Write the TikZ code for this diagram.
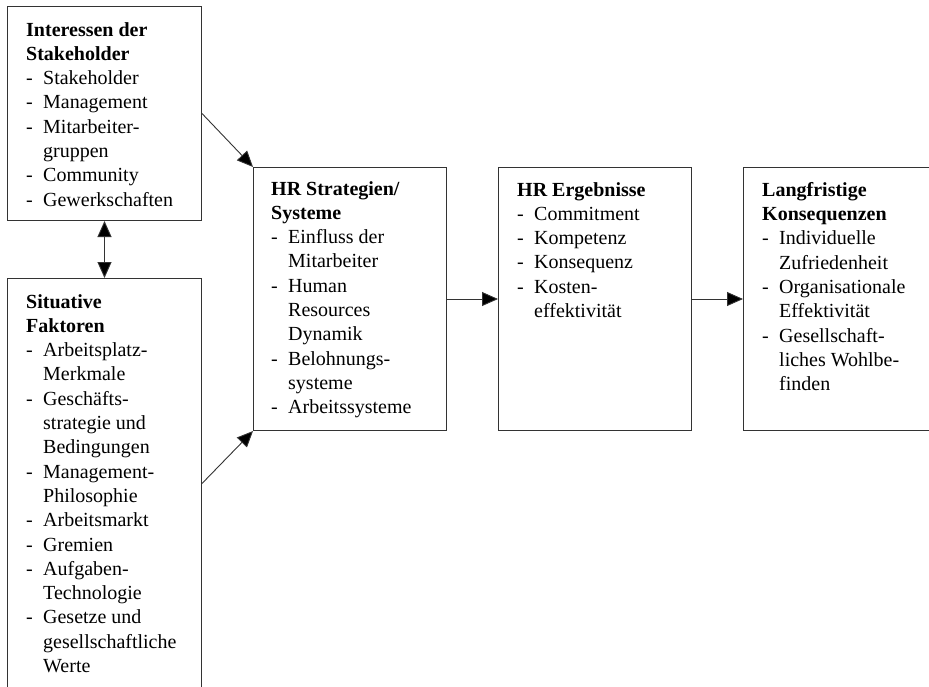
\documentclass[tikz,border=0pt]{standalone}
\usepackage{fontspec}
\setmainfont{Liberation Serif}
\usetikzlibrary{arrows.meta,calc}
\definecolor{linegray}{HTML}{333333}
\newcommand{\itm}[1]{\makebox[17pt][l]{-}#1}
\newcommand{\cnt}[1]{\hspace*{17pt}#1}

\begin{document}
\begin{tikzpicture}[x=1pt,y=-1pt,
  box/.style={draw=linegray,line width=1pt,anchor=north west,minimum width=194pt,inner sep=0pt},
  txt/.style={anchor=north west,align=left,inner sep=0pt,font=\fontsize{20}{24.3}\selectfont},
  arr/.style={draw=linegray,line width=0.9pt,-{Triangle[length=16pt,width=14pt,fill=black]}}]
  \useasboundingbox (0,0) rectangle (929,686);
  % boxes
  \node[box,minimum height=214pt] (int) at (7,6) {};
  \node[box,minimum height=410pt] (sit) at (7,278) {};
  \node[box,minimum width=193pt,minimum height=263pt] (hrs) at (253,167) {};
  \node[box,minimum width=193pt,minimum height=263pt] (erg) at (498,167) {};
  \node[box,minimum width=193pt,minimum height=263pt] (lang) at (743,167) {};
  % contents
  \node[txt] (intT) at ($(int.north west)+(19,16)$) {\textbf{Interessen der}\\\textbf{Stakeholder}\\
    \itm{Stakeholder}\\\itm{Management}\\\itm{Mitarbeiter-}\\\cnt{gruppen}\\
    \itm{Community}\\\itm{Gewerkschaften}};
  \node[txt] (sitT) at ($(sit.north west)+(19,16)$) {\textbf{Situative}\\\textbf{Faktoren}\\
    \itm{Arbeitsplatz-}\\\cnt{Merkmale}\\\itm{Geschäfts-}\\\cnt{strategie und}\\\cnt{Bedingungen}\\
    \itm{Management-}\\\cnt{Philosophie}\\\itm{Arbeitsmarkt}\\\itm{Gremien}\\
    \itm{Aufgaben-}\\\cnt{Technologie}\\\itm{Gesetze und}\\\cnt{gesellschaftliche}\\\cnt{Werte}};
  \node[txt] (hrsT) at ($(hrs.north west)+(18,14)$) {\textbf{HR Strategien/}\\\textbf{Systeme}\\
    \itm{Einfluss der}\\\cnt{Mitarbeiter}\\\itm{Human}\\\cnt{Resources}\\\cnt{Dynamik}\\
    \itm{Belohnungs-}\\\cnt{systeme}\\\itm{Arbeitssysteme}};
  \node[txt] (ergT) at ($(erg.north west)+(19,15)$) {\textbf{HR Ergebnisse}\\
    \itm{Commitment}\\\itm{Kompetenz}\\\itm{Konsequenz}\\\itm{Kosten-}\\\cnt{effektivität}};
  \node[txt] (langT) at ($(lang.north west)+(19,15)$) {\textbf{Langfristige}\\\textbf{Konsequenzen}\\
    \itm{Individuelle}\\\cnt{Zufriedenheit}\\\itm{Organisationale}\\\cnt{Effektivität}\\
    \itm{Gesellschaft-}\\\cnt{liches Wohlbe-}\\\cnt{finden}};
  % arrows
  \draw[arr] (int.east) -- (hrs.north west);
  \draw[arr] (sit.east) -- (hrs.south west);
  \draw[arr,{Triangle[length=16pt,width=14pt,fill=black]}-{Triangle[length=16pt,width=14pt,fill=black]}] (int.south) -- (sit.north);
  \draw[arr] (hrs.east) -- (erg.west);
  \draw[arr] (erg.east) -- (lang.west);
\end{tikzpicture}
\end{document}
